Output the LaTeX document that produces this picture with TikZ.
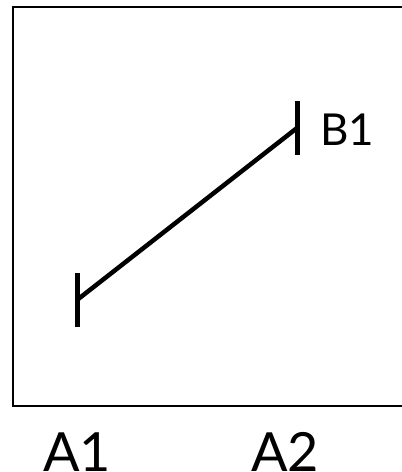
\documentclass[tikz,border=0pt]{standalone}
\usepackage{fontspec}
\setmainfont{Lato}
\begin{document}
\begin{tikzpicture}[x=1pt, y=1pt, line cap=butt]
% Diagram parameters
\def\tickhalf{27}
\providecommand{\figFrameWidth}{2pt}
\providecommand{\figLineWidth}{4.5pt}
\providecommand{\figTickWidth}{5pt}
\tikzset{
  frame/.style={draw=black, line width=\figFrameWidth},
  segment/.style={draw=black, line width=\figLineWidth},
  tick/.style={draw=black, line width=\figTickWidth},
  ptlabel/.style={inner sep=0pt, font=\fontsize{44}{44}\selectfont},
  axislabel/.style={inner sep=0pt, font=\fontsize{54}{54}\selectfont},
}
\useasboundingbox (0,0) rectangle (402,472);
% Frame, its right side runs off the page
\path[frame] (12.5,66) rectangle (420,465);
% Segment between the two end points
\coordinate (a1) at (77,172);
\coordinate (b1) at (297,344);
\draw[segment] (a1) -- (b1);
% End ticks
\draw[tick] ([yshift=-\tickhalf]a1) -- ([yshift=\tickhalf]a1);
\draw[tick] ([yshift=-\tickhalf]b1) -- ([yshift=\tickhalf]b1);
% Labels
\node[ptlabel, anchor=base west] (lblB1) at (320,326) {B1};
\node[axislabel, anchor=base] (lblA1) at (77,1) {A1};
\node[axislabel, anchor=base] (lblA2) at (285,1) {A2};
\end{tikzpicture}
\end{document}
